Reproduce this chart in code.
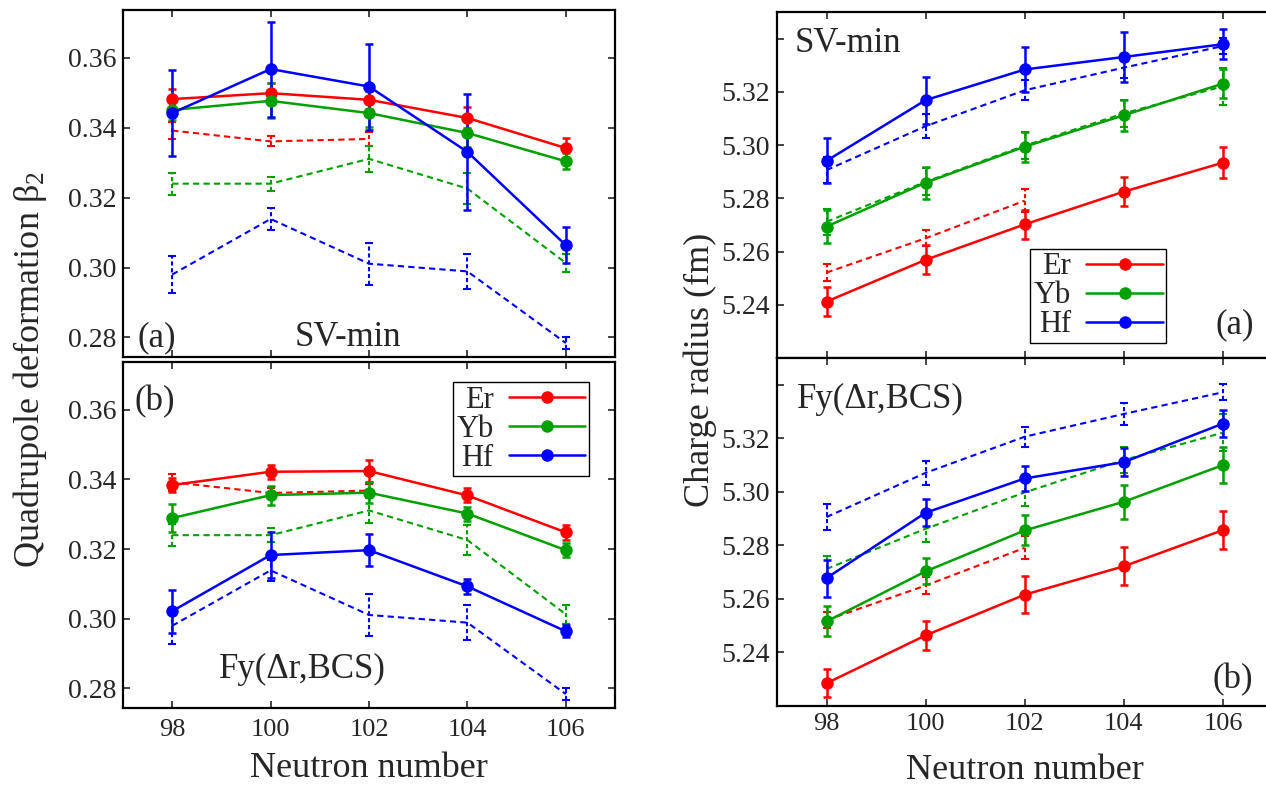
import numpy as np, pandas as pd, seaborn as sns, matplotlib
matplotlib.use('Agg')
import matplotlib.pyplot as plt
from matplotlib.lines import Line2D

sns.set_theme(style='ticks')
plt.rcParams['font.family'] = ['Liberation Serif', 'DejaVu Serif']
plt.rcParams['mathtext.fontset'] = 'custom'
plt.rcParams['mathtext.rm'] = 'Liberation Serif'
plt.rcParams['mathtext.it'] = 'Liberation Serif:italic'
plt.rcParams['lines.dashed_pattern'] = [3, 2]

# neutron numbers
N = [98, 100, 102, 104, 106]
elements = ['Er', 'Yb', 'Hf']
colors = {'Er': '#ff0000', 'Yb': '#00a000', 'Hf': '#0000ff'}

# quadrupole deformation beta2
beta_sv = {'Er': [0.3482, 0.3499, 0.3480, 0.3428, 0.3342],
           'Yb': [0.3451, 0.3477, 0.3442, 0.3385, 0.3304],
           'Hf': [0.3442, 0.3568, 0.3518, 0.3331, 0.3064]}
beta_sv_err = {'Er': [0.003, 0.003, 0.0025, 0.003, 0.003],
               'Yb': [0.003, 0.005, 0.004, 0.004, 0.0023],
               'Hf': [0.0123, 0.0136, 0.0123, 0.0165, 0.0052]}
beta_fy = {'Er': [0.3384, 0.3422, 0.3424, 0.3354, 0.3248],
           'Yb': [0.3289, 0.3355, 0.3362, 0.3302, 0.3197],
           'Hf': [0.3022, 0.3183, 0.3197, 0.3093, 0.2964]}
beta_fy_err = {'Er': [0.002, 0.002, 0.0032, 0.002, 0.0022],
               'Yb': [0.0041, 0.0027, 0.003, 0.002, 0.002],
               'Hf': [0.0062, 0.0066, 0.0046, 0.0022, 0.0017]}
beta_exp = {'Er': [0.3392, 0.3361, 0.3368],
            'Yb': [0.3240, 0.3240, 0.3311, 0.3226, 0.3013],
            'Hf': [0.2980, 0.3139, 0.3011, 0.2989, 0.2784]}
beta_exp_err = {'Er': [0.0025, 0.0014, 0.002],
                'Yb': [0.0031, 0.002, 0.0037, 0.0044, 0.0027],
                'Hf': [0.0052, 0.0031, 0.006, 0.005, 0.0017]}

# charge radius (fm)
rad_sv = {'Er': [5.2412, 5.2569, 5.2702, 5.2825, 5.2934],
          'Yb': [5.2694, 5.2859, 5.2994, 5.3112, 5.3231],
          'Hf': [5.2941, 5.3169, 5.3284, 5.3331, 5.3379]}
rad_sv_err = {'Er': [0.0055, 0.0054, 0.0054, 0.0055, 0.0057],
              'Yb': [0.0062, 0.006, 0.0056, 0.0059, 0.0055],
              'Hf': [0.0084, 0.0088, 0.0083, 0.0093, 0.0056]}
rad_fy = {'Er': [5.2285, 5.2464, 5.2616, 5.2722, 5.2857],
          'Yb': [5.2516, 5.2703, 5.2856, 5.2963, 5.3100],
          'Hf': [5.2678, 5.2922, 5.3050, 5.3111, 5.3255]}
rad_fy_err = {'Er': [0.0052, 0.0053, 0.0069, 0.0071, 0.0072],
              'Yb': [0.0056, 0.0049, 0.0056, 0.0064, 0.0067],
              'Hf': [0.0069, 0.005, 0.0047, 0.0053, 0.0051]}
rad_exp = {'Er': [5.2521, 5.2650, 5.2791],
           'Yb': [5.2712, 5.2862, 5.2998, 5.3119, 5.3221],
           'Hf': [5.2906, 5.3071, 5.3206, 5.3291, 5.3372]}
rad_exp_err = {'Er': [0.0031, 0.0031, 0.0043],
               'Yb': [0.0048, 0.005, 0.005, 0.005, 0.007],
               'Hf': [0.005, 0.0044, 0.0038, 0.004, 0.003]}


def to_df(vals, errs):
    rows = []
    for el in elements:
        for n, v, e in zip(N, vals[el], errs[el]):
            rows.append({'N': n, 'val': v, 'err': e, 'el': el})
    return pd.DataFrame(rows)


def draw(ax, theo, theo_err, exp, exp_err):
    dt = to_df(theo, theo_err)
    de = to_df(exp, exp_err)
    # experiment: dashed, no markers
    for el in elements:
        s = de[de.el == el]
        eb = ax.errorbar(s.N, s.val, yerr=s.err, fmt='none', ecolor=colors[el],
                         elinewidth=1.5, capsize=3, capthick=1.5, zorder=2)
        eb[2][0].set_linestyle((0, (2, 1.3)))
    sns.lineplot(data=de, x='N', y='val', hue='el', palette=colors, ax=ax,
                 legend=False, linewidth=1.5, linestyle='--', zorder=2,
                 estimator=None)
    # theory: solid with markers
    for el in elements:
        s = dt[dt.el == el]
        ax.errorbar(s.N, s.val, yerr=s.err, fmt='none', ecolor=colors[el],
                    elinewidth=1.8, capsize=3, capthick=1.8, zorder=3)
    sns.lineplot(data=dt, x='N', y='val', hue='el', palette=colors, ax=ax,
                 legend=False, linewidth=1.8, marker='o', markersize=9,
                 markeredgewidth=0, zorder=4, estimator=None)
    ax.set_xlim(97, 107)
    ax.set_xticks(N)
    ax.set_xlabel('')
    ax.set_ylabel('')
    ax.tick_params(direction='in', top=True, right=True, length=5, width=1.2,
                   pad=5)
    ax.tick_params(axis='x', labelsize=19)
    ax.tick_params(axis='y', labelsize=20)
    for sp in ax.spines.values():
        sp.set_linewidth(1.6)
        sp.set_color('black')


def add_legend(ax, loc, anchor):
    handles = [Line2D([], [], color=colors[el], lw=1.8, marker='o', markersize=9,
                      markeredgewidth=0) for el in elements]
    leg = ax.legend(handles, elements, loc=loc, bbox_to_anchor=anchor,
                    markerfirst=False, fontsize=22, handlelength=2.5,
                    handletextpad=0.5, labelspacing=0.0, borderpad=0.12,
                    borderaxespad=0, frameon=True, fancybox=False,
                    framealpha=1, edgecolor='black')
    leg.get_frame().set_linewidth(1.0)


W, H = 1266, 786
fig = plt.figure(figsize=(W / 100, H / 100), dpi=100)

ax1 = fig.add_axes([123 / W, (H - 357) / H, 492 / W, 347 / H])
ax2 = fig.add_axes([123 / W, (H - 708) / H, 492 / W, 346 / H])
ax3 = fig.add_axes([777 / W, (H - 358) / H, 495.5 / W, 346 / H])
ax4 = fig.add_axes([777 / W, (H - 706) / H, 495.5 / W, 348 / H])

draw(ax1, beta_sv, beta_sv_err, beta_exp, beta_exp_err)
draw(ax2, beta_fy, beta_fy_err, beta_exp, beta_exp_err)
draw(ax3, rad_sv, rad_sv_err, rad_exp, rad_exp_err)
draw(ax4, rad_fy, rad_fy_err, rad_exp, rad_exp_err)

beta_ticks = [0.28, 0.30, 0.32, 0.34, 0.36]
for ax in (ax1, ax2):
    ax.set_ylim(0.2744, 0.3737)
    ax.set_yticks(beta_ticks)
    ax.set_yticklabels([f'{t:.2f}' for t in beta_ticks])

rad_ticks = [5.24, 5.26, 5.28, 5.30, 5.32, 5.34]
for ax in (ax3, ax4):
    ax.set_ylim(5.22, 5.35)
    ax.set_yticks(rad_ticks)
    ax.set_yticklabels([f'{t:.2f}' if t < 5.33 else '' for t in rad_ticks])

ax1.set_xticklabels([])
ax3.set_xticklabels([])
ax2.tick_params(axis='x', pad=8)
ax4.tick_params(axis='x', pad=5)

ax2.set_xlabel('Neutron number', fontsize=26, labelpad=8)
ax4.set_xlabel('Neutron number', fontsize=26, labelpad=14)
fig.text(30 / W, 0.53, r'Quadrupole deformation β$_2$', rotation=90,
         fontsize=26, ha='center', va='center')
fig.text(700 / W, 0.53, 'Charge radius (fm)', rotation=90,
         fontsize=26, ha='center', va='center')

tk = dict(fontsize=25, va='baseline')
ax1.text(0.030, 0.032, '(a)', transform=ax1.transAxes, **tk)
ax1.text(0.348, 0.032, 'SV-min', transform=ax1.transAxes, **tk)
ax2.text(0.024, 0.861, '(b)', transform=ax2.transAxes, **tk)
ax2.text(0.195, 0.087, 'Fy(Δr,BCS)', transform=ax2.transAxes, **tk)
ax3.text(0.036, 0.884, 'SV-min', transform=ax3.transAxes, **tk)
ax3.text(0.884, 0.072, '(a)', transform=ax3.transAxes, **tk)
ax4.text(0.040, 0.856, 'Fy(Δr,BCS)', transform=ax4.transAxes, **tk)
ax4.text(0.878, 0.052, '(b)', transform=ax4.transAxes, **tk)

add_legend(ax3, 'lower left', (0.511, 0.043))
add_legend(ax2, 'upper right', (0.947, 0.942))

fig.savefig('out.png', dpi=100)
